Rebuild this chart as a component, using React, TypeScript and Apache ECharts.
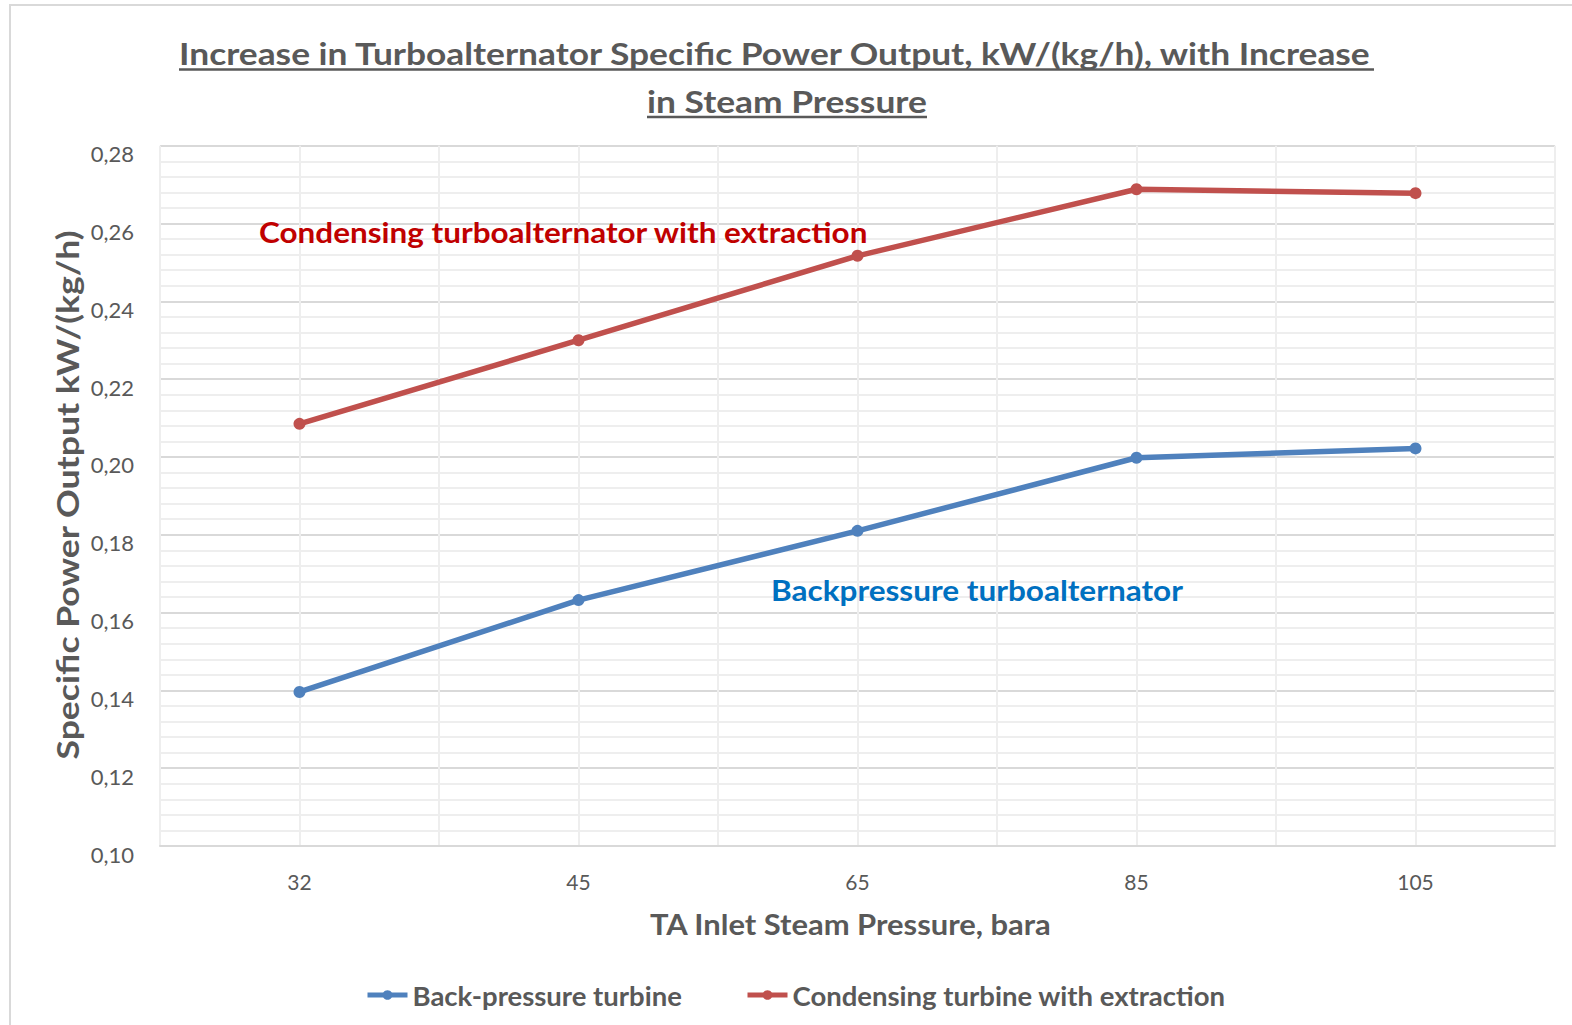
import React, { useEffect, useRef } from "react";
import * as echarts from "echarts";

const categories = ["32", "45", "65", "85", "105"];
const backPressure = [0.1396, 0.1632, 0.181, 0.1998, 0.2022];
const condensing = [0.2085, 0.23, 0.2517, 0.2688, 0.2678];
const seriesNames = ["Back-pressure turbine", "Condensing turbine with extraction"];
const yMin = 0.1;
const yMax = 0.28;
const yStep = 0.02;
const titleLines = [
  "Increase in Turboalternator Specific Power Output, kW/(kg/h), with Increase",
  "in Steam Pressure",
];
const yTitle = "Specific Power Output kW/(kg/h)";
const xTitle = "TA Inlet Steam Pressure, bara";
const noteCondensing = "Condensing turboalternator with extraction";
const noteBack = "Backpressure turboalternator";

const FONT = "Lato";
const GREY = "#595959";
const BLUE = "#4F81BD";
const RED = "#C0504D";

function measure(text: string, size: number, weight: string) {
  const ctx = document.createElement("canvas").getContext("2d")!;
  ctx.font = `${weight} ${size}px ${FONT}`;
  return ctx.measureText(text).width || 1;
}

function fitText(
  text: string,
  size: number,
  left: number,
  cy: number,
  width: number,
  color: string
) {
  return {
    type: "text",
    x: left,
    y: cy,
    z: 100,
    scaleX: width / measure(text, size, "bold"),
    silent: true,
    style: {
      text,
      fontFamily: FONT,
      fontSize: size,
      fontWeight: "bold",
      fill: color,
      align: "left",
      verticalAlign: "middle",
    },
  };
}

export default function App() {
  const ref = useRef<HTMLDivElement>(null);
  useEffect(() => {
    if (!ref.current) return;
    const chart = echarts.init(ref.current, undefined, { renderer: "svg" });

    const graphic: any[] = [
      {
        type: "rect",
        silent: true,
        z: 100,
        shape: { x: 10, y: 5, width: 1600, height: 1100 },
        style: { fill: "none", stroke: "#D9D9D9", lineWidth: 2 },
      },
      fitText(titleLines[0], 30, 179, 54, 1195, GREY),
      fitText(titleLines[1], 30, 647, 101.5, 280, GREY),
      {
        type: "line",
        silent: true,
        z: 100,
        shape: { x1: 179, y1: 69.5, x2: 1374, y2: 69.5 },
        style: { stroke: GREY, lineWidth: 2.5 },
      },
      {
        type: "line",
        silent: true,
        z: 100,
        shape: { x1: 647, y1: 117, x2: 927, y2: 117 },
        style: { stroke: GREY, lineWidth: 2.5 },
      },
      fitText(noteCondensing, 29, 259, 231, 610, "#C00000"),
      fitText(noteBack, 29, 771, 590, 412, "#0070C0"),
      fitText(xTitle, 29, 650, 923, 402, GREY),
      {
        type: "text",
        x: 67,
        y: 495,
        z: 100,
        rotation: Math.PI / 2,
        scaleX: 530 / measure(yTitle, 31, "bold"),
        silent: true,
        style: {
          text: yTitle,
          fontFamily: FONT,
          fontSize: 31,
          fontWeight: "bold",
          fill: GREY,
          align: "center",
          verticalAlign: "middle",
        },
      },
    ];

    const legendCommon = {
      top: 980,
      padding: 0,
      itemWidth: 40,
      itemHeight: 12,
      lineStyle: { width: 5 },
      textStyle: {
        color: GREY,
        fontFamily: FONT,
        fontSize: 27.5,
        fontWeight: "bold",
        lineHeight: 30,
      },
    };

    chart.setOption({
      animation: false,
      backgroundColor: "#ffffff",
      textStyle: { fontFamily: FONT },
      grid: { left: 160, right: 17, top: 145.7, bottom: 179, containLabel: false },
      legend: [
        { ...legendCommon, left: 365, data: [seriesNames[0]] },
        { ...legendCommon, left: 745, data: [seriesNames[1]] },
      ],
      xAxis: [
        {
          type: "category",
          data: categories,
          boundaryGap: true,
          axisLine: { show: true, lineStyle: { color: "#D9D9D9", width: 2 } },
          axisTick: { show: false },
          splitLine: { show: false },
          axisLabel: { color: GREY, fontSize: 21, fontFamily: FONT, margin: 25 },
        },
        {
          type: "value",
          min: 0,
          max: 10,
          interval: 1,
          position: "bottom",
          axisLine: { show: false },
          axisTick: { show: false },
          axisLabel: { show: false },
          splitLine: { show: true, lineStyle: { color: "#EEEEEE", width: 2 } },
        },
      ],
      yAxis: {
        type: "value",
        min: yMin,
        max: yMax,
        interval: yStep,
        axisLine: { show: false },
        axisTick: { show: false },
        axisLabel: {
          color: GREY,
          fontSize: 22,
          fontFamily: FONT,
          margin: 26,
          verticalAlign: "top",
          lineHeight: 16,
          formatter: (v: number) => v.toFixed(2).replace(".", ","),
        },
        splitLine: { show: true, lineStyle: { color: "#D9D9D9", width: 2 } },
        minorTick: { show: false, splitNumber: 5 },
        minorSplitLine: { show: true, lineStyle: { color: "#EEEEEE", width: 2 } },
      },
      series: [
        {
          name: seriesNames[0],
          type: "line",
          xAxisIndex: 0,
          data: backPressure,
          symbol: "circle",
          symbolSize: 12,
          color: BLUE,
          lineStyle: { width: 5.5, color: BLUE },
          itemStyle: { color: BLUE },
          z: 3,
        },
        {
          name: seriesNames[1],
          type: "line",
          xAxisIndex: 0,
          data: condensing,
          symbol: "circle",
          symbolSize: 12,
          color: RED,
          lineStyle: { width: 5.5, color: RED },
          itemStyle: { color: RED },
          z: 3,
        },
      ],
      graphic,
    });
    return () => chart.dispose();
  }, []);

  return (
    <div
      ref={ref}
      style={{ position: "fixed", left: 0, top: 0, width: 1572, height: 1025 }}
    />
  );
}
